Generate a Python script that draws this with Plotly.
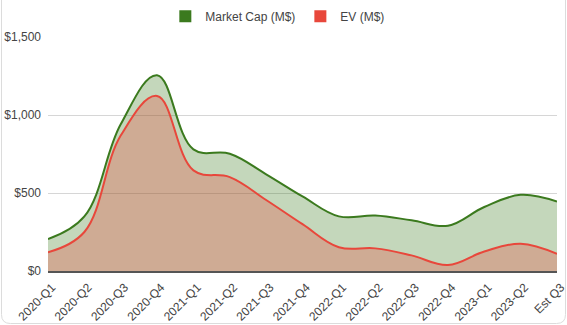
import plotly.graph_objects as go

quarters = ["2020-Q1", "2020-Q2", "2020-Q3", "2020-Q4", "2021-Q1", "2021-Q2", "2021-Q3",
            "2021-Q4", "2022-Q1", "2022-Q2", "2022-Q3", "2022-Q4", "2023-Q1", "2023-Q2", "Est Q3"]
market_cap = [205, 350, 940, 1255, 780, 752, 620, 478, 350, 355, 325, 290, 410, 488, 445]
ev = [120, 250, 868, 1122, 645, 602, 455, 300, 152, 145, 100, 38, 125, 175, 110]
y_ticks = [0, 500, 1000, 1500]
y_tick_labels = ["$0", "$500", "$1,000", "$1,500"]

GREEN = "#3b7a1e"
RED = "#e8473b"

fig = go.Figure()
fig.add_trace(go.Scatter(x=quarters, y=market_cap, mode="lines", fill="tozeroy",
                         line=dict(color=GREEN, width=2, shape="spline", smoothing=1.1),
                         fillcolor="rgba(59,122,30,0.30)", showlegend=False,
                         name="Market Cap (M$)"))
fig.add_trace(go.Scatter(x=quarters, y=ev, mode="lines", fill="tozeroy",
                         line=dict(color=RED, width=2, shape="spline", smoothing=1.1),
                         fillcolor="rgba(232,71,59,0.30)", showlegend=False,
                         name="EV (M$)"))
fig.add_trace(go.Scatter(x=[None], y=[None], mode="markers", name="Market Cap (M$)",
                         marker=dict(symbol="square", size=12, color=GREEN)))
fig.add_trace(go.Scatter(x=[None], y=[None], mode="markers", name="EV (M$)",
                         marker=dict(symbol="square", size=12, color=RED)))

# plot area in pixels: x 48..557, y 37..271
L, R, T, B = 48, 557, 37, 271
def px(x):
    return (x - L) / (R - L)
def py(y):
    return (B - y) / (B - T)

bl, br, bb, bt, rad = 1.5, 565.5, 323.5, -20, 9
path = (f"M {px(bl)},{py(bt)} L {px(bl)},{py(bb - rad)} "
        f"Q {px(bl)},{py(bb)} {px(bl + rad)},{py(bb)} "
        f"L {px(br - rad)},{py(bb)} "
        f"Q {px(br)},{py(bb)} {px(br)},{py(bb - rad)} "
        f"L {px(br)},{py(bt)}")

fig.update_layout(
    width=567, height=325,
    margin=dict(l=L, r=567 - R, t=T, b=325 - B, autoexpand=False),
    paper_bgcolor="white", plot_bgcolor="white",
    font=dict(family="Liberation Sans, Arial, sans-serif", size=12, color="#444"),
    legend=dict(orientation="h", xref="container", yref="container", x=0.49, y=0.995,
                xanchor="center", yanchor="top", font=dict(size=12, color="#444"),
                itemwidth=30, tracegroupgap=0),
    xaxis=dict(type="category", tickangle=-45, showgrid=False, showline=True,
               linecolor="#555", linewidth=1.5, ticks="", range=[0, len(quarters) - 1],
               tickfont=dict(size=12, color="#444"), automargin=False,
               ticklabelstandoff=3, ticklabelshift=4),
    yaxis=dict(range=[0, 1500], tickvals=y_ticks, ticktext=y_tick_labels,
               showgrid=True, gridcolor="#d6d6d6", gridwidth=1, zeroline=False,
               ticks="", ticklabelstandoff=6, tickfont=dict(size=12, color="#444"),
               automargin=False),
    shapes=[dict(type="path", xref="paper", yref="paper", path=path,
                 line=dict(color="#dcdcdc", width=1), layer="below")],
)

fig.write_html("out.html")
